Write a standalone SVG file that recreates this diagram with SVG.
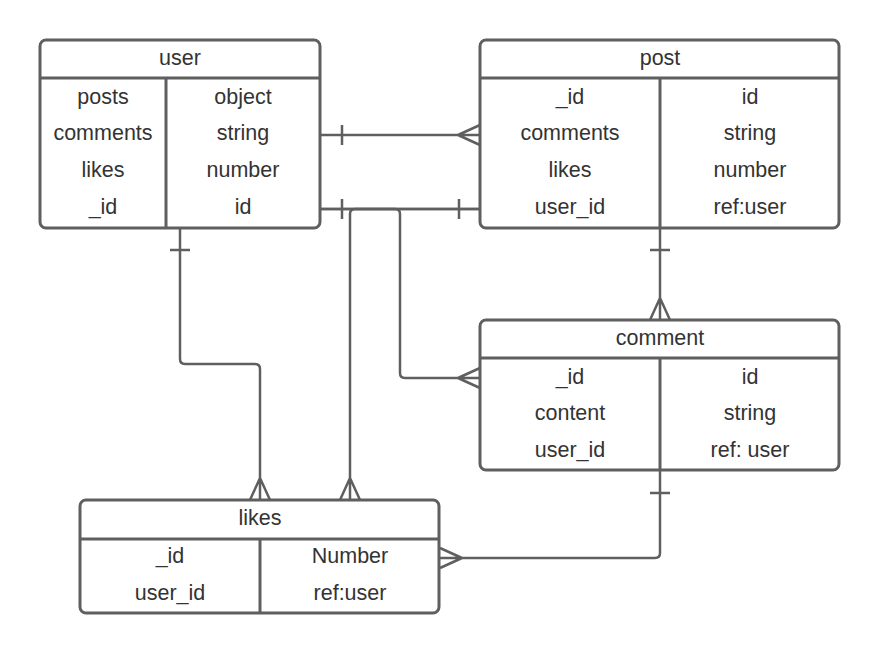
<svg xmlns="http://www.w3.org/2000/svg" width="880" height="654" viewBox="0 0 880 654">
<style>
.box{fill:#fff;stroke:#5f5f5f;stroke-width:3}
.ln{stroke:#5f5f5f;stroke-width:3;fill:none}
.cn{stroke:#5f5f5f;stroke-width:2.5;fill:none}
text{font-family:"Liberation Sans",Arial,sans-serif;font-size:21.5px;fill:#333;text-anchor:middle}
</style>
<rect width="880" height="654" fill="#fff"/>
<g id="connectors">
<path class="cn" d="M320,135 H480 M342,125 V145 M458,135 L480,125 M458,135 L480,145"/>
<path class="cn" d="M320,209 H480 M342,199 V219 M459,199 V219"/>
<path class="cn" d="M320,209 H395 Q400,209 400,214 V373 Q400,378 405,378 H480 M458,378 L480,368 M458,378 L480,388"/>
<path class="cn" d="M480,209 H355 Q350,209 350,214 V500 M350,478 L340,500 M350,478 L360,500"/>
<path class="cn" d="M180,228 V359 Q180,364 185,364 H255 Q260,364 260,369 V500 M170,250 H190 M260,478 L250,500 M260,478 L270,500"/>
<path class="cn" d="M660,228 V320 M650,250 H670 M660,298 L650,320 M660,298 L670,320"/>
<path class="cn" d="M660,470 V553 Q660,558 655,558 H440 M650,493 H670 M462,558 L440,548 M462,558 L440,568"/>
</g>
<g id="user">
<rect class="box" x="40" y="40" width="280" height="188" rx="6"/>
<path class="ln" d="M40,78 H320 M166,78 V228"/>
<text x="180" y="65">user</text>
<text x="103" y="104">posts</text><text x="243" y="104">object</text>
<text x="103" y="140">comments</text><text x="243" y="140">string</text>
<text x="103" y="177">likes</text><text x="243" y="177">number</text>
<text x="103" y="214">_id</text><text x="243" y="214">id</text>
</g>
<g id="post">
<rect class="box" x="480" y="40" width="359" height="188" rx="6"/>
<path class="ln" d="M480,78 H839 M660,78 V228"/>
<text x="660" y="65">post</text>
<text x="570" y="104">_id</text><text x="750" y="104">id</text>
<text x="570" y="140">comments</text><text x="750" y="140">string</text>
<text x="570" y="177">likes</text><text x="750" y="177">number</text>
<text x="570" y="214">user_id</text><text x="750" y="214">ref:user</text>
</g>
<g id="comment">
<rect class="box" x="480" y="320" width="359" height="150" rx="6"/>
<path class="ln" d="M480,358 H839 M660,358 V470"/>
<text x="660" y="345">comment</text>
<text x="570" y="384">_id</text><text x="750" y="384">id</text>
<text x="570" y="420">content</text><text x="750" y="420">string</text>
<text x="570" y="457">user_id</text><text x="750" y="457">ref: user</text>
</g>
<g id="likes">
<rect class="box" x="80" y="500" width="359" height="113" rx="6"/>
<path class="ln" d="M80,539 H439 M260,539 V613"/>
<text x="260" y="525">likes</text>
<text x="170" y="563">_id</text><text x="350" y="563">Number</text>
<text x="170" y="600">user_id</text><text x="350" y="600">ref:user</text>
</g>
</svg>
